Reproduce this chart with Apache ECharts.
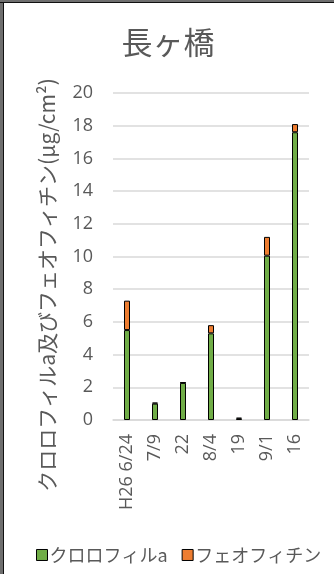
<!DOCTYPE html>
<html>
<head>
<meta charset="utf-8">
<script src="https://cdn.jsdelivr.net/npm/echarts@6/dist/echarts.min.js"></script>
<style>
  html, body { margin: 0; padding: 0; background: #fff; }
  #chart { width: 334px; height: 574px; }
</style>
</head>
<body>
<div id="chart"></div>
<script>
// Sampling dates (H26 survey)
const categories = ['H26 6/24', '7/9', '22', '8/4', '19', '9/1', '16'];
// Chlorophyll a (μg/cm²)
const chlorophyllA = [5.5, 1.0, 2.27, 5.3, 0.08, 10.05, 17.6];
// Pheophytin (μg/cm²)
const pheophytin = [1.8, 0.07, 0.03, 0.5, 0.06, 1.15, 0.5];
// Y-axis ticks
const yMin = 0, yMax = 20, yStep = 2;

const seriesNames = ['クロロフィルa', 'フェオフィチン'];
const textColor = '#595959';
const jpFont = '"Noto Sans CJK JP", "Noto Sans", sans-serif';
const numFont = '"Open Sans", "Liberation Sans", sans-serif';

const chart = echarts.init(document.getElementById('chart'), null, { renderer: 'canvas' });

chart.setOption({
  animation: false,
  backgroundColor: '#fff',
  legend: {
    data: seriesNames,
    left: 31,
    top: 541,
    icon: 'rect',
    itemWidth: 11,
    itemHeight: 11,
    itemGap: 14,
    textStyle: { fontFamily: jpFont, fontSize: 18, color: textColor, padding: [0, 0, 0, -3] },
    itemStyle: { borderColor: '#000', borderWidth: 1 }
  },
  grid: { left: 113, right: 25, top: 93, bottom: 154, containLabel: false },
  xAxis: {
    type: 'category',
    data: categories,
    axisLine: { show: true, lineStyle: { color: '#d9d9d9', width: 1.5 } },
    axisTick: { show: false },
    axisLabel: { rotate: 90, margin: 14, fontFamily: numFont, fontSize: 18, color: textColor }
  },
  yAxis: {
    type: 'value',
    min: yMin,
    max: yMax,
    interval: yStep,
    axisLine: { show: false },
    axisTick: { show: false },
    splitLine: { lineStyle: { color: '#d9d9d9', width: 1.5 } },
    axisLabel: { margin: 20, fontFamily: numFont, fontSize: 18, color: textColor }
  },
  series: [
    {
      name: seriesNames[0],
      type: 'bar',
      stack: 'total',
      barWidth: 6,
      data: chlorophyllA,
      itemStyle: { color: '#70ad47', borderColor: '#000', borderWidth: 1 }
    },
    {
      name: seriesNames[1],
      type: 'bar',
      stack: 'total',
      barWidth: 6,
      data: pheophytin,
      itemStyle: { color: '#ed7d31', borderColor: '#000', borderWidth: 1 }
    }
  ],
  graphic: [
    // frame edges
    { type: 'rect', left: 0, top: 0, shape: { width: 3, height: 574 }, style: { fill: '#6e6e6e' } },
    { type: 'rect', left: 3, top: 0, shape: { width: 1, height: 574 }, style: { fill: '#111' } },
    { type: 'rect', left: 0, top: 0, shape: { width: 334, height: 2 }, style: { fill: '#6e6e6e' } },
    { type: 'rect', left: 0, top: 2, shape: { width: 334, height: 1 }, style: { fill: '#111' } },
    // chart title
    {
      type: 'text',
      x: 168,
      y: 42,
      style: {
        text: '長ヶ橋',
        fontFamily: jpFont,
        fontSize: 31,
        fill: textColor,
        align: 'center',
        verticalAlign: 'middle'
      }
    },
    // y-axis title
    {
      type: 'text',
      x: 47,
      y: 285,
      rotation: Math.PI / 2,
      style: {
        text: 'クロロフィルa及びフェオフィチン(μg/cm²)',
        fontFamily: jpFont,
        fontSize: 21,
        fill: textColor,
        align: 'center',
        verticalAlign: 'middle'
      }
    }
  ]
});
</script>
</body>
</html>
